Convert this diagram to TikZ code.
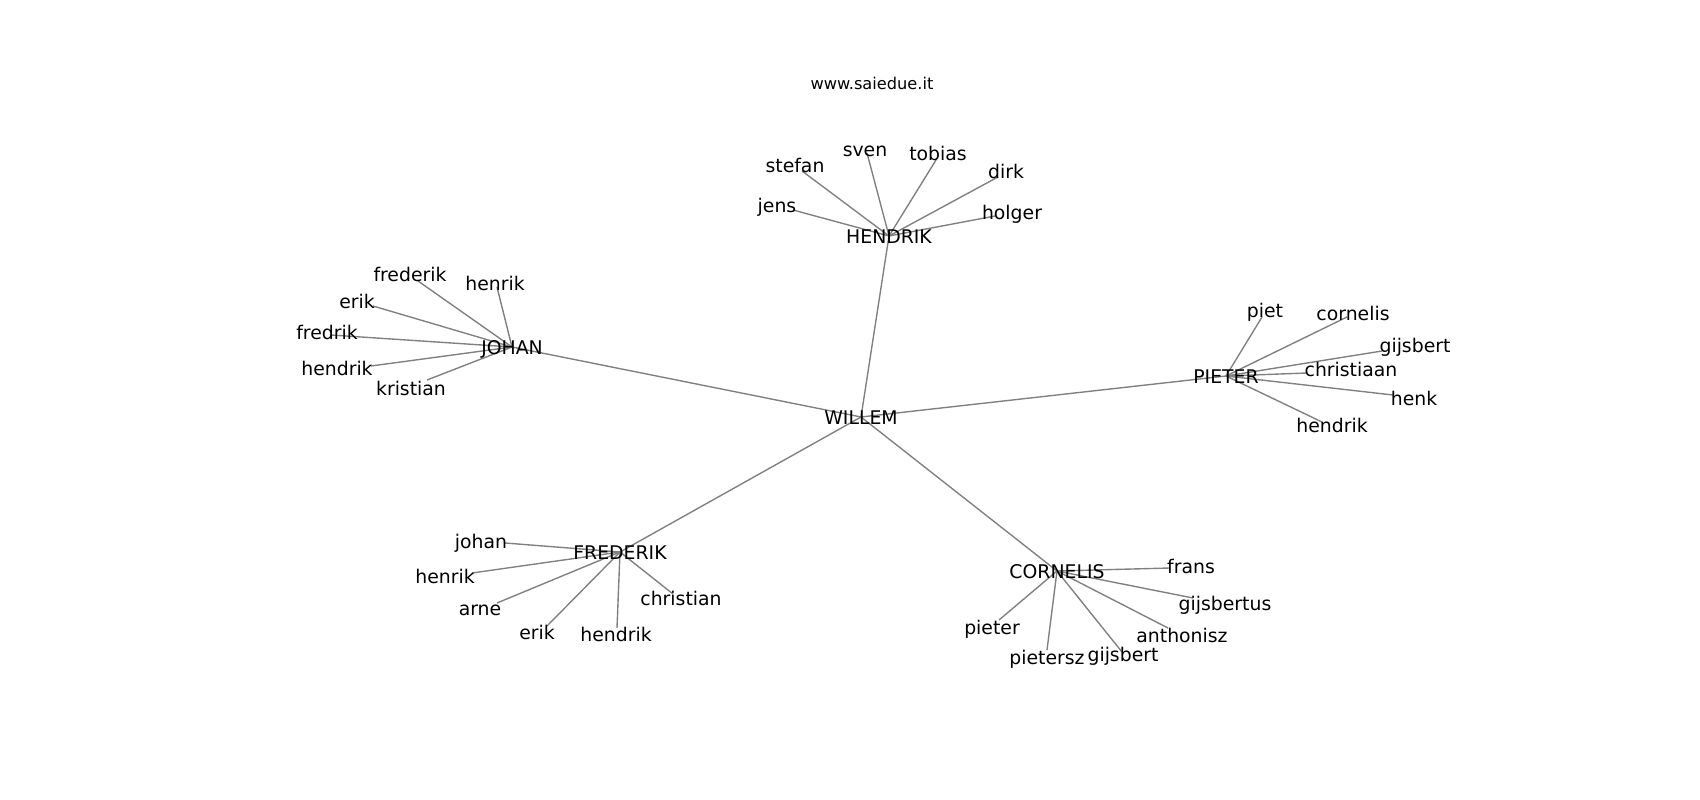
\documentclass[tikz,border=0pt]{standalone}
\usepackage{fontspec}
\setmainfont{DejaVu Sans}
\usetikzlibrary{backgrounds}

\begin{document}
\begin{tikzpicture}[x=0.01in,y=-0.01in,
    person/.style={inner sep=0pt,font=\fontsize{13.6}{16}\selectfont,text height=12.4pt,text depth=1pt},
    hub/.style={person},
    famline/.style={draw=gray,line width=1pt}]
    \useasboundingbox (0,0) rectangle (1700,800);

    % Title
    \node[inner sep=0pt,font=\fontsize{11.7}{14}\selectfont] (site) at (872,83) {www.saiedue.it};

    % Root and its children
    \node[hub] (WILLEM) at (861,417) {WILLEM};
    \node[hub] (HENDRIK) at (889,236) {HENDRIK};
    \node[hub] (JOHAN) at (512,347) {JOHAN};
    \node[hub] (PIETER) at (1226,376) {PIETER};
    \node[hub] (FREDERIK) at (620,552) {FREDERIK};
    \node[hub] (CORNELIS) at (1057,571) {CORNELIS};

    % HENDRIK branch
    \node[person] (h-jens) at (777,205) {jens};
    \node[person] (h-stefan) at (795,165) {stefan};
    \node[person] (h-sven) at (865,149) {sven};
    \node[person] (h-tobias) at (938,153) {tobias};
    \node[person] (h-dirk) at (1006,171) {dirk};
    \node[person] (h-holger) at (1012,212) {holger};
    \coordinate (h-jens-e) at (793,210);
    \coordinate (h-stefan-e) at (802,171);
    \coordinate (h-sven-e) at (867,153);
    \coordinate (h-tobias-e) at (936,160);
    \coordinate (h-dirk-e) at (998,177);
    \coordinate (h-holger-e) at (995,216);

    % JOHAN branch
    \node[person] (j-frederik) at (410,274) {frederik};
    \node[person] (j-henrik) at (495,283) {henrik};
    \node[person] (j-erik) at (357,301) {erik};
    \node[person] (j-fredrik) at (327,332) {fredrik};
    \node[person] (j-hendrik) at (337,368) {hendrik};
    \node[person] (j-kristian) at (411,388) {kristian};
    \coordinate (j-frederik-e) at (418,281);
    \coordinate (j-henrik-e) at (497,287);
    \coordinate (j-erik-e) at (373,306);
    \coordinate (j-fredrik-e) at (331,335);
    \coordinate (j-hendrik-e) at (371,366);
    \coordinate (j-kristian-e) at (427,380);

    % PIETER branch
    \node[person] (p-piet) at (1265,310) {piet};
    \node[person] (p-cornelis) at (1353,313) {cornelis};
    \node[person] (p-gijsbert) at (1415,345) {gijsbert};
    \node[person] (p-christiaan) at (1351,369) {christiaan};
    \node[person] (p-henk) at (1414,398) {henk};
    \node[person] (p-hendrik) at (1332,425) {hendrik};
    \coordinate (p-piet-e) at (1262,317);
    \coordinate (p-cornelis-e) at (1347,317);
    \coordinate (p-gijsbert-e) at (1382,351);
    \coordinate (p-christiaan-e) at (1307,373);
    \coordinate (p-henk-e) at (1393,395);
    \coordinate (p-hendrik-e) at (1322,422);

    % FREDERIK branch
    \node[person] (f-johan) at (481,541) {johan};
    \node[person] (f-henrik) at (445,576) {henrik};
    \node[person] (f-arne) at (480,608) {arne};
    \node[person] (f-erik) at (537,632) {erik};
    \node[person] (f-hendrik) at (616,634) {hendrik};
    \node[person] (f-christian) at (681,598) {christian};
    \coordinate (f-johan-e) at (505,543);
    \coordinate (f-henrik-e) at (472,573);
    \coordinate (f-arne-e) at (497,603);
    \coordinate (f-erik-e) at (547,626);
    \coordinate (f-hendrik-e) at (617,628);
    \coordinate (f-christian-e) at (673,594);

    % CORNELIS branch
    \node[person] (c-frans) at (1191,566) {frans};
    \node[person] (c-gijsbertus) at (1225,603) {gijsbertus};
    \node[person] (c-anthonisz) at (1182,635) {anthonisz};
    \node[person] (c-gijsbert) at (1123,654) {gijsbert};
    \node[person] (c-pietersz) at (1047,657) {pietersz};
    \node[person] (c-pieter) at (992,627) {pieter};
    \coordinate (c-frans-e) at (1170,568);
    \coordinate (c-gijsbertus-e) at (1193,598);
    \coordinate (c-anthonisz-e) at (1168,628);
    \coordinate (c-gijsbert-e) at (1122,652);
    \coordinate (c-pietersz-e) at (1047,650);
    \coordinate (c-pieter-e) at (999,620);

    % Connectors, behind the names
    \begin{scope}[on background layer]
        \draw[famline] (WILLEM.center) -- (HENDRIK.center);
        \draw[famline] (WILLEM.center) -- (JOHAN.center);
        \draw[famline] (WILLEM.center) -- (PIETER.center);
        \draw[famline] (WILLEM.center) -- (FREDERIK.center);
        \draw[famline] (WILLEM.center) -- (CORNELIS.center);

        \draw[famline] (HENDRIK.center) -- (h-jens-e);
        \draw[famline] (HENDRIK.center) -- (h-stefan-e);
        \draw[famline] (HENDRIK.center) -- (h-sven-e);
        \draw[famline] (HENDRIK.center) -- (h-tobias-e);
        \draw[famline] (HENDRIK.center) -- (h-dirk-e);
        \draw[famline] (HENDRIK.center) -- (h-holger-e);

        \draw[famline] (JOHAN.center) -- (j-frederik-e);
        \draw[famline] (JOHAN.center) -- (j-henrik-e);
        \draw[famline] (JOHAN.center) -- (j-erik-e);
        \draw[famline] (JOHAN.center) -- (j-fredrik-e);
        \draw[famline] (JOHAN.center) -- (j-hendrik-e);
        \draw[famline] (JOHAN.center) -- (j-kristian-e);

        \draw[famline] (PIETER.center) -- (p-piet-e);
        \draw[famline] (PIETER.center) -- (p-cornelis-e);
        \draw[famline] (PIETER.center) -- (p-gijsbert-e);
        \draw[famline] (PIETER.center) -- (p-christiaan-e);
        \draw[famline] (PIETER.center) -- (p-henk-e);
        \draw[famline] (PIETER.center) -- (p-hendrik-e);

        \draw[famline] (FREDERIK.center) -- (f-johan-e);
        \draw[famline] (FREDERIK.center) -- (f-henrik-e);
        \draw[famline] (FREDERIK.center) -- (f-arne-e);
        \draw[famline] (FREDERIK.center) -- (f-erik-e);
        \draw[famline] (FREDERIK.center) -- (f-hendrik-e);
        \draw[famline] (FREDERIK.center) -- (f-christian-e);

        \draw[famline] (CORNELIS.center) -- (c-frans-e);
        \draw[famline] (CORNELIS.center) -- (c-gijsbertus-e);
        \draw[famline] (CORNELIS.center) -- (c-anthonisz-e);
        \draw[famline] (CORNELIS.center) -- (c-gijsbert-e);
        \draw[famline] (CORNELIS.center) -- (c-pietersz-e);
        \draw[famline] (CORNELIS.center) -- (c-pieter-e);
    \end{scope}
\end{tikzpicture}
\end{document}
